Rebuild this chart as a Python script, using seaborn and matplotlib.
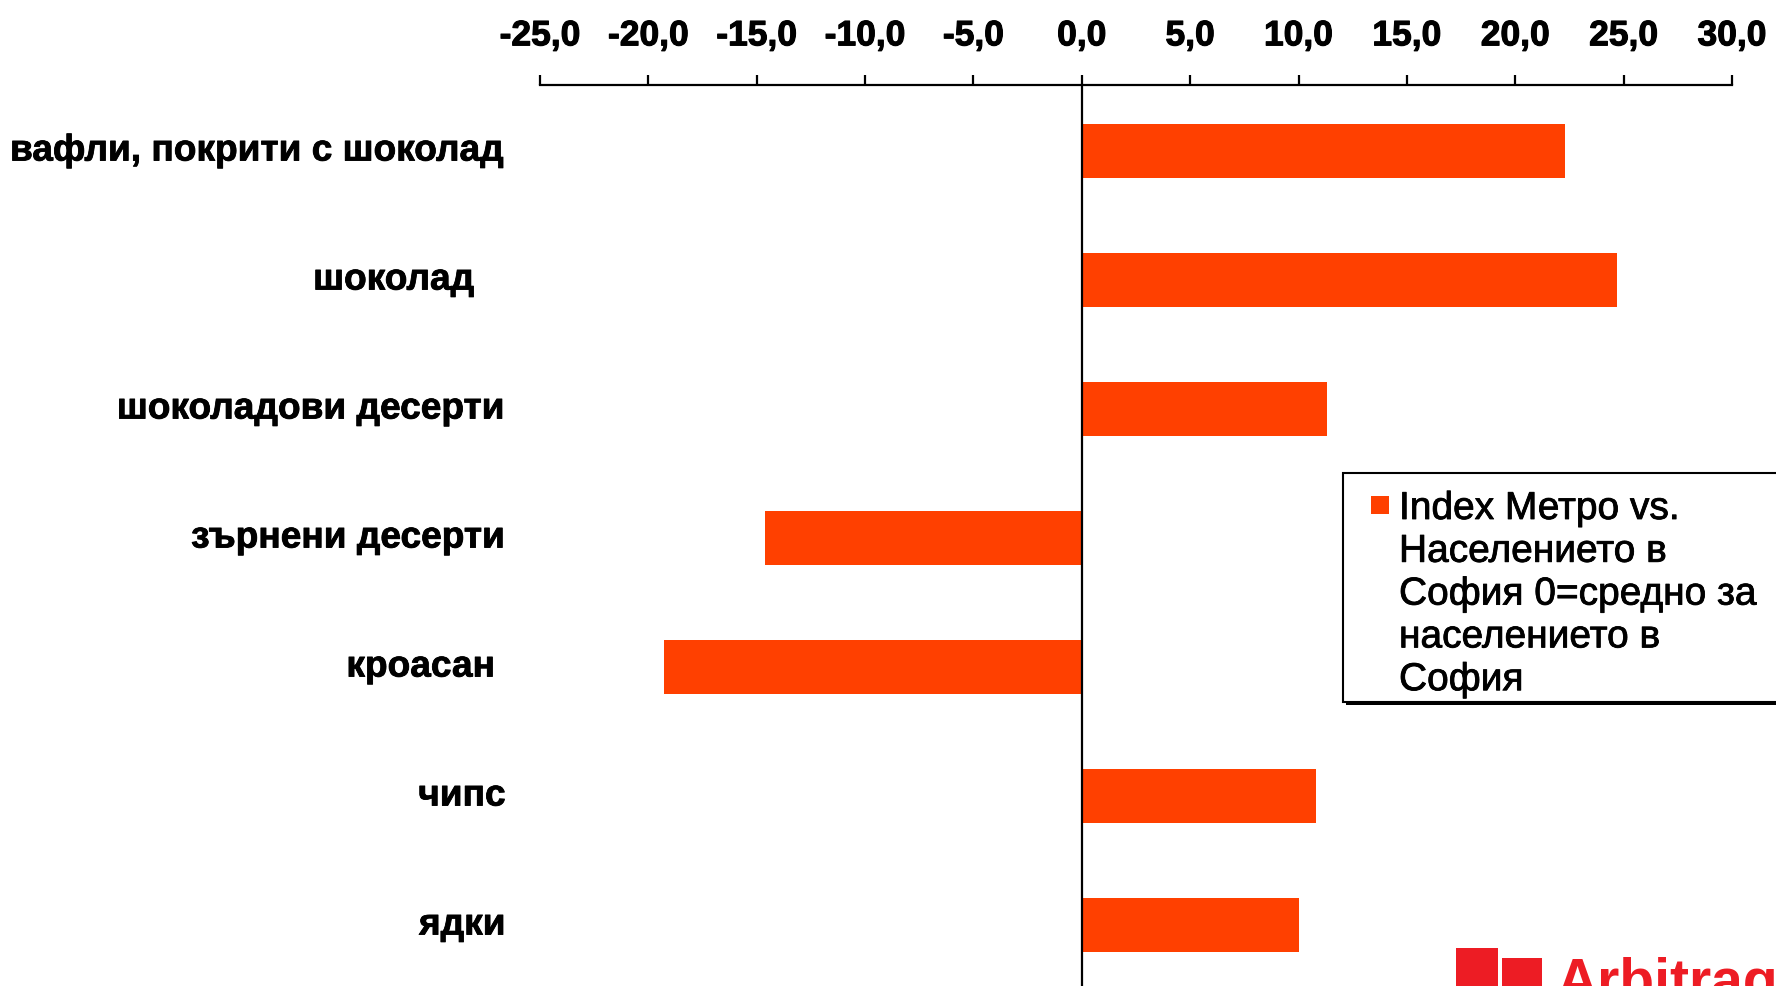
import numpy as np
import pandas as pd
import matplotlib
matplotlib.use("Agg")
import matplotlib.pyplot as plt
import matplotlib.transforms as mtransforms
import matplotlib.patheffects as pe
from matplotlib.patches import Rectangle
import seaborn as sns

# Index values per product group (0 = Sofia population average)
categories = ["вафли, покрити с шоколад", "шоколад", "шоколадови десерти",
              "зърнени десерти", "кроасан", "чипс", "ядки"]
category_labels = ["вафли, покрити с шоколад", "шоколад   ", "шоколадови десерти",
                   "зърнени десерти", "кроасан ", "чипс", "ядки"]
index_values = [22.3, 24.7, 11.3, -14.6, -19.3, 10.8, 10.0]
x_ticks = [-25, -20, -15, -10, -5, 0, 5, 10, 15, 20, 25, 30]
series_name = "Index Метро vs.\nНаселението в\nСофия 0=средно за\nнаселението в\nСофия"
brand_name = "Arbitrage"

BAR_COLOR = "#FF4000"
LOGO_RED = "#ED1C24"
W, H = 1776, 987


def fx(px):
    return px / W


def fy(py):
    return 1 - py / H


sns.set_style("white")
plt.rcParams["font.family"] = ["Liberation Sans", "DejaVu Sans"]

fig = plt.figure(figsize=(W / 100, H / 100), dpi=100)

# plot area: top spine at y=86 px, 129 px per category row
ax_top, ax_left, ax_right = 86, 540, 1732
row_px = 129
y_top_lim = -0.512
y_bot_lim = 6.5
ax_bottom = ax_top + (y_bot_lim - y_top_lim) * row_px
ax = fig.add_axes([fx(ax_left), fy(ax_bottom), (ax_right - ax_left) / W,
                   (ax_bottom - ax_top) / H])

df = pd.DataFrame({"category": categories, "value": index_values})
sns.barplot(data=df, x="value", y="category", orient="h", color=BAR_COLOR,
            saturation=1, width=0.42, linewidth=0, ax=ax)

ax.set_xlim(-25, 30)
ax.set_ylim(y_bot_lim, y_top_lim)
ax.set_xlabel("")
ax.set_ylabel("")

# value axis on top
heavy = [pe.withStroke(linewidth=0.8, foreground="black")]
ax.xaxis.tick_top()
ax.set_xticks(x_ticks)
ax.set_xticklabels([f"{v:.1f}".replace(".", ",") for v in x_ticks],
                   fontsize=25.5, fontweight="bold")
for t in ax.get_xticklabels():
    t.set_path_effects(heavy)
ax.tick_params(axis="x", direction="out", length=7.5, width=1.6, pad=16,
               labeltop=True, labelbottom=False, colors="black")

# category axis crossing at zero, ticks between categories
ax.set_yticks(np.arange(0.5, len(categories) - 1, 1))
ax.set_yticklabels([])
ax.tick_params(axis="y", direction="out", length=8, width=1.6, colors="black")

for side in ("right", "bottom"):
    ax.spines[side].set_visible(False)
ax.spines["left"].set_position(("data", 0))
for side in ("left", "top"):
    ax.spines[side].set_linewidth(1.6)
    ax.spines[side].set_color("black")
ax.grid(False)

# category names, right aligned left of the plot
trans = mtransforms.blended_transform_factory(fig.transFigure, ax.transData)
for i, lab in enumerate(category_labels):
    ax.text(fx(506), i, lab, transform=trans, ha="right", va="center",
            fontsize=26.7, fontweight="bold", color="black", clip_on=False,
            path_effects=[pe.withStroke(linewidth=0.6, foreground="black")])

# legend box with its drop shadow
fig.patches.append(Rectangle((fx(1346), fy(706)), 500 / W, 3.5 / H,
                             transform=fig.transFigure, facecolor="black",
                             edgecolor="none", zorder=4))
fig.patches.append(Rectangle((fx(1343), fy(703)), 500 / W, (703 - 474) / H,
                             transform=fig.transFigure, facecolor="white",
                             edgecolor="black", linewidth=1.5, zorder=5))
fig.patches.append(Rectangle((fx(1371), fy(515)), 18 / W, 18 / H,
                             transform=fig.transFigure, facecolor=BAR_COLOR,
                             edgecolor="none", zorder=6))
first_baseline, line_step = 520, 42.8
for k, line in enumerate(series_name.split("\n")):
    fig.text(fx(1399), fy(first_baseline + k * line_step), line, ha="left",
             va="baseline", fontsize=28, color="black", zorder=7,
             path_effects=[pe.withStroke(linewidth=0.6, foreground="black")])

# brand mark
fig.patches.append(Rectangle((fx(1456), fy(1000)), 42 / W, 51 / H,
                             transform=fig.transFigure, facecolor=LOGO_RED,
                             edgecolor="none"))
fig.patches.append(Rectangle((fx(1502), fy(1000)), 40 / W, 41 / H,
                             transform=fig.transFigure, facecolor=LOGO_RED,
                             edgecolor="none"))
fig.text(fx(1557), fy(999), brand_name, ha="left", va="baseline",
         fontsize=41, fontweight="bold", color=LOGO_RED)

fig.savefig("out.png", dpi=100, facecolor="white")
